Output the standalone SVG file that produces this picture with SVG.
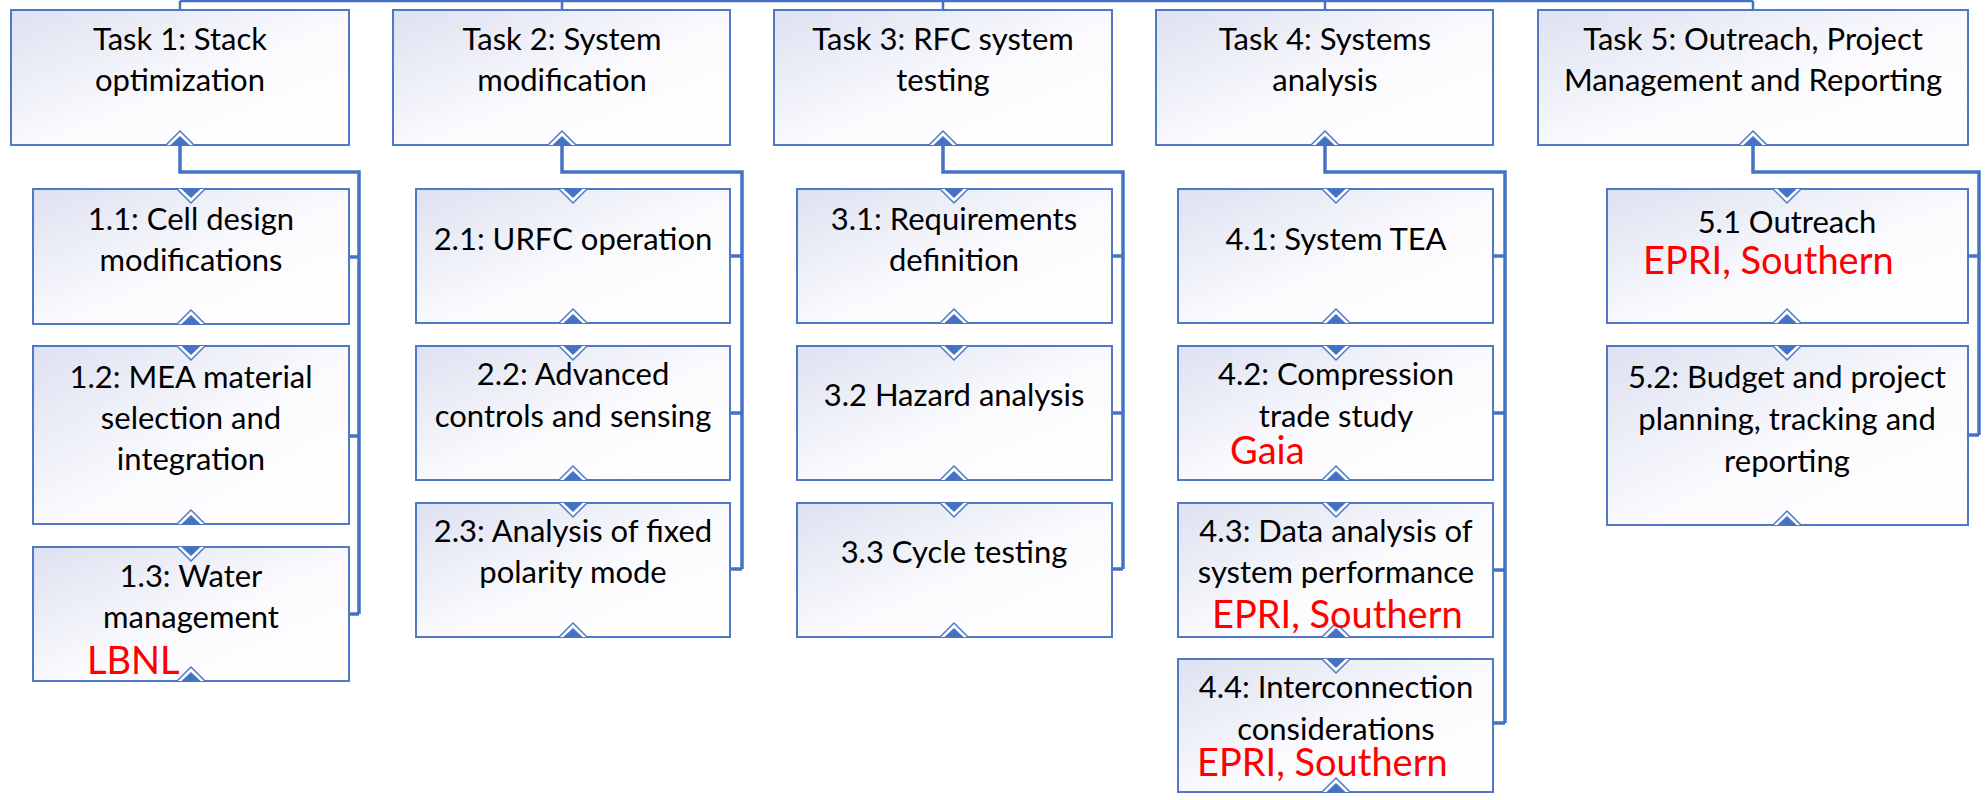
<svg xmlns="http://www.w3.org/2000/svg" xmlns:xlink="http://www.w3.org/1999/xlink" width="1986" height="800" viewBox="0 0 1986 800">
<style>
.box{fill:url(#g);stroke:#4f79c4;stroke-width:2}
.t{font-family:Lato,"Open Sans","Liberation Sans",sans-serif;font-size:31px;fill:#000;text-anchor:middle}
.r{font-family:Lato,"Open Sans","Liberation Sans",sans-serif;font-size:38px;fill:#ff0000}
.c{fill:none;stroke:#4472c4;stroke-width:3.5}
.cb{fill:none;stroke:#4472c4;stroke-width:2.5}
</style>
<defs>
<linearGradient id="g" x1="0" y1="0" x2="1" y2="1">
<stop offset="0" stop-color="#dde1f0"/>
<stop offset="0.55" stop-color="#fbfbfe"/>
<stop offset="1" stop-color="#ffffff"/>
</linearGradient>
<g id="up"><path d="M-14,0 L0,-14 L14,0" fill="#fff" stroke="#4f79c4" stroke-width="1.5"/><path d="M-10,0.5 L0,-9 L10,0.5Z" fill="#4472c4"/></g>
<g id="dn"><path d="M-14,0 L0,14 L14,0" fill="#fff" stroke="#4f79c4" stroke-width="1.5"/><path d="M-10,-0.5 L0,9 L10,-0.5Z" fill="#4472c4"/></g>
</defs>

<g id="connectors">
<path class="cb" d="M180,1 H1753 M180,1 V10 M562,1 V10 M943,1 V10 M1325,1 V10 M1753,1 V10"/>
<path class="c" d="M180,145 V172 H359 V614 M349,257 H359 M349,436 H359 M349,614 H359"/>
<path class="c" d="M562,145 V172 H742 V569 M730,256 H742 M730,413 H742 M730,569 H742"/>
<path class="c" d="M943,145 V172 H1123 V569 M1112,256 H1123 M1112,413 H1123 M1112,569 H1123"/>
<path class="c" d="M1325,145 V172 H1505 V723 M1493,256 H1505 M1493,413 H1505 M1493,570 H1505 M1493,723 H1505"/>
<path class="c" d="M1753,145 V172 H1979 V435 M1968,256 H1979 M1968,435 H1979"/>
</g>

<g id="task1"><rect class="box" x="11" y="10" width="338" height="135"/><use xlink:href="#up" x="180" y="145"/>
<text class="t" x="180" y="50">Task 1: Stack</text><text class="t" x="180" y="91">optimization</text></g>
<g id="task2"><rect class="box" x="393" y="10" width="337" height="135"/><use xlink:href="#up" x="562" y="145"/>
<text class="t" x="562" y="50">Task 2: System</text><text class="t" x="562" y="91">modification</text></g>
<g id="task3"><rect class="box" x="774" y="10" width="338" height="135"/><use xlink:href="#up" x="943" y="145"/>
<text class="t" x="943" y="50">Task 3: RFC system</text><text class="t" x="943" y="91">testing</text></g>
<g id="task4"><rect class="box" x="1156" y="10" width="337" height="135"/><use xlink:href="#up" x="1325" y="145"/>
<text class="t" x="1325" y="50">Task 4: Systems</text><text class="t" x="1325" y="91">analysis</text></g>
<g id="task5"><rect class="box" x="1538" y="10" width="430" height="135"/><use xlink:href="#up" x="1753" y="145"/>
<text class="t" x="1753" y="50">Task 5: Outreach, Project</text><text class="t" x="1753" y="91">Management and Reporting</text></g>

<g id="s11"><rect class="box" x="33" y="189" width="316" height="135"/><use xlink:href="#dn" x="191" y="189"/><use xlink:href="#up" x="191" y="324"/>
<text class="t" x="191" y="230">1.1: Cell design</text><text class="t" x="191" y="271">modifications</text></g>
<g id="s12"><rect class="box" x="33" y="346" width="316" height="178"/><use xlink:href="#dn" x="191" y="346"/><use xlink:href="#up" x="191" y="524"/>
<text class="t" x="191" y="388">1.2: MEA material</text><text class="t" x="191" y="429">selection and</text><text class="t" x="191" y="470">integration</text></g>
<g id="s13"><rect class="box" x="33" y="547" width="316" height="134"/><use xlink:href="#dn" x="191" y="547"/><use xlink:href="#up" x="191" y="681"/>
<text class="t" x="191" y="587">1.3: Water</text><text class="t" x="191" y="628">management</text><text class="r" x="87" y="674">LBNL</text></g>

<g id="s21"><rect class="box" x="416" y="189" width="314" height="134"/><use xlink:href="#dn" x="573" y="189"/><use xlink:href="#up" x="573" y="323"/>
<text class="t" x="573" y="250">2.1: URFC operation</text></g>
<g id="s22"><rect class="box" x="416" y="346" width="314" height="134"/><use xlink:href="#dn" x="573" y="346"/><use xlink:href="#up" x="573" y="480"/>
<text class="t" x="573" y="385">2.2: Advanced</text><text class="t" x="573" y="427">controls and sensing</text></g>
<g id="s23"><rect class="box" x="416" y="503" width="314" height="134"/><use xlink:href="#dn" x="573" y="503"/><use xlink:href="#up" x="573" y="637"/>
<text class="t" x="573" y="542">2.3: Analysis of fixed</text><text class="t" x="573" y="583">polarity mode</text></g>

<g id="s31"><rect class="box" x="797" y="189" width="315" height="134"/><use xlink:href="#dn" x="954" y="189"/><use xlink:href="#up" x="954" y="323"/>
<text class="t" x="954" y="230">3.1: Requirements</text><text class="t" x="954" y="271">definition</text></g>
<g id="s32"><rect class="box" x="797" y="346" width="315" height="134"/><use xlink:href="#dn" x="954" y="346"/><use xlink:href="#up" x="954" y="480"/>
<text class="t" x="954" y="406">3.2 Hazard analysis</text></g>
<g id="s33"><rect class="box" x="797" y="503" width="315" height="134"/><use xlink:href="#dn" x="954" y="503"/><use xlink:href="#up" x="954" y="637"/>
<text class="t" x="954" y="563">3.3 Cycle testing</text></g>

<g id="s41"><rect class="box" x="1178" y="189" width="315" height="134"/><use xlink:href="#dn" x="1336" y="189"/><use xlink:href="#up" x="1336" y="323"/>
<text class="t" x="1336" y="250">4.1: System TEA</text></g>
<g id="s42"><rect class="box" x="1178" y="346" width="315" height="134"/><use xlink:href="#dn" x="1336" y="346"/><use xlink:href="#up" x="1336" y="480"/>
<text class="t" x="1336" y="385">4.2: Compression</text><text class="t" x="1336" y="427">trade study</text><text class="r" x="1230" y="464">Gaia</text></g>
<g id="s43"><rect class="box" x="1178" y="503" width="315" height="134"/><use xlink:href="#dn" x="1336" y="503"/><use xlink:href="#up" x="1336" y="637"/>
<text class="t" x="1336" y="542">4.3: Data analysis of</text><text class="t" x="1336" y="583">system performance</text><text class="r" x="1212" y="628">EPRI, Southern</text></g>
<g id="s44"><rect class="box" x="1178" y="659" width="315" height="133"/><use xlink:href="#dn" x="1336" y="659"/><use xlink:href="#up" x="1336" y="792"/>
<text class="t" x="1336" y="698">4.4: Interconnection</text><text class="t" x="1336" y="740">considerations</text><text class="r" x="1197" y="776">EPRI, Southern</text></g>

<g id="s51"><rect class="box" x="1607" y="189" width="361" height="134"/><use xlink:href="#dn" x="1787" y="189"/><use xlink:href="#up" x="1787" y="323"/>
<text class="t" x="1787" y="233">5.1 Outreach</text><text class="r" x="1643" y="274">EPRI, Southern</text></g>
<g id="s52"><rect class="box" x="1607" y="346" width="361" height="179"/><use xlink:href="#dn" x="1787" y="346"/><use xlink:href="#up" x="1787" y="525"/>
<text class="t" x="1787" y="388">5.2: Budget and project</text><text class="t" x="1787" y="430">planning, tracking and</text><text class="t" x="1787" y="472">reporting</text></g>
</svg>
